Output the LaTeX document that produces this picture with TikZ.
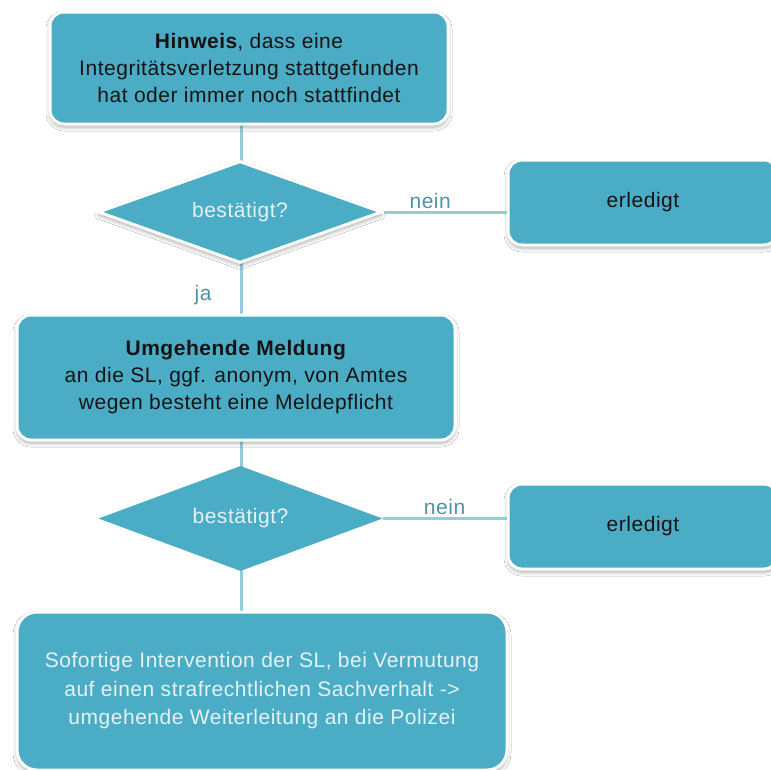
\documentclass[tikz,border=0pt]{standalone}
\usepackage{fontspec}
\setmainfont{Liberation Sans}[LetterSpace=2.5]
\usetikzlibrary{shapes.geometric,shadows.blur}

\definecolor{boxfill}{HTML}{4BACC6}
\definecolor{linkline}{HTML}{93CDDD}
\definecolor{labeltext}{HTML}{4E93A8}
\definecolor{lighttext}{HTML}{E4F2F6}
\definecolor{darktext}{HTML}{141414}

\tikzset{
  flowtext/.style={font=\fontsize{21}{27}\selectfont},
  card/.style={flowtext, rectangle, rounded corners=14pt, fill=boxfill,
    draw=white, line width=3pt, align=center, text=darktext, inner sep=0pt,
    blur shadow={shadow xshift=0pt, shadow yshift=-3pt,
      shadow blur radius=4pt, shadow opacity=35}},
  decision/.style={flowtext, shape=diamond, aspect=2.8, fill=boxfill, inner sep=0pt,
    text=lighttext, minimum width=284pt, minimum height=102pt},
  framed/.style={draw=white, line width=3pt,
    blur shadow={shadow xshift=0pt, shadow yshift=-3pt,
      shadow blur radius=4pt, shadow opacity=35}},
  link/.style={draw=linkline, line width=3pt},
  linklabel/.style={flowtext, text=labeltext, inner sep=2pt},
}

\begin{document}
\begin{tikzpicture}[x=1pt,y=-1pt]
  \fill[white] (0,0) rectangle (771,769);
  \clip (0,0) rectangle (771,769);

  % connectors first, so that the shapes sit on top of them
  \coordinate (c1a) at (241,120);
  \coordinate (c1b) at (241,165);
  \coordinate (c2a) at (241,258);
  \coordinate (c2b) at (241,320);
  \coordinate (c3a) at (241,436);
  \coordinate (c3b) at (241,470);
  \coordinate (c4a) at (241,566);
  \coordinate (c4b) at (241,616);
  \draw[link] (c1a) -- (c1b);
  \draw[link] (c2a) -- node[linklabel, pos=0.6, left=26pt] {ja} (c2b);
  \draw[link] (c3a) -- (c3b);
  \draw[link] (c4a) -- (c4b);

  % boxes
  \node[card, minimum width=398pt, minimum height=112pt] (b1) at (249,68)
    {\textbf{Hinweis}, dass eine\\Integritätsverletzung stattgefunden\\hat oder immer noch stattfindet};

  \node[decision, framed] (d1) at (240,212) {bestätigt?};

  \node[card, minimum width=270pt, minimum height=85pt] (e1) at (643,202.5) {erledigt};

  \node[card, minimum width=438pt, minimum height=125pt] (b2) at (236,377.5)
    {\textbf{Umgehende Meldung}\\an die SL, ggf. anonym, von Amtes\\wegen besteht eine Meldepflicht};

  \node[decision, minimum height=105pt] (d2) at (240.5,518.5) {bestätigt?};

  \node[card, minimum width=270pt, minimum height=85pt] (e2) at (643,526.5) {erledigt};

  \node[card, text=lighttext, rounded corners=20pt, minimum width=490pt, minimum height=158pt,
        font=\fontsize{21}{28.5}\selectfont] (b3) at (262,691)
    {Sofortige Intervention der SL, bei Vermutung\\auf einen strafrechtlichen Sachverhalt ->\\umgehende Weiterleitung an die Polizei};

  % horizontal "nein" branches
  \draw[link] (d1.east) -- node[linklabel, pos=0.38, above] {nein} (d1.east -| e1.west);
  \draw[link] (d2.east) -- node[linklabel, pos=0.5, above] {nein} (d2.east -| e2.west);
\end{tikzpicture}
\end{document}
